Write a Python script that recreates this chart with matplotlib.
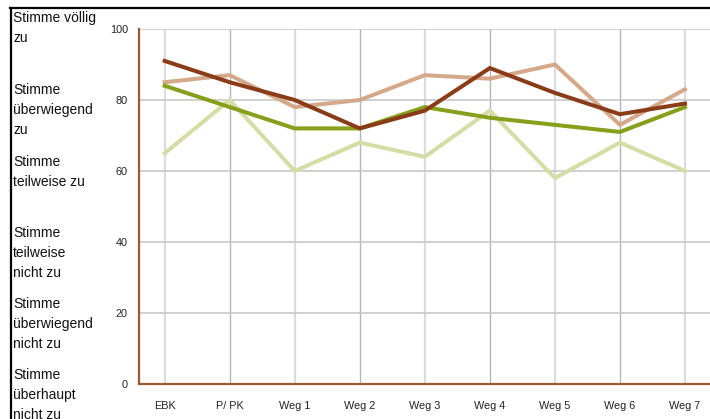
import matplotlib
matplotlib.use("Agg")
import matplotlib.pyplot as plt
from matplotlib.lines import Line2D

plt.rcParams['font.family'] = ['Liberation Sans', 'DejaVu Sans']

categories = ["EBK", "P/ PK", "Weg 1", "Weg 2", "Weg 3", "Weg 4", "Weg 5", "Weg 6", "Weg 7"]
light_green = [65, 80, 60, 68, 64, 77, 58, 68, 60]
tan = [85, 87, 78, 80, 87, 86, 90, 73, 83]
olive = [84, 78, 72, 72, 78, 75, 73, 71, 78]
dark_brown = [91, 85, 80, 72, 77, 89, 82, 76, 79]
y_ticks = [0, 20, 40, 60, 80, 100]
scale_labels = [
    ["Stimme völlig", "zu"],
    ["Stimme", "überwiegend", "zu"],
    ["Stimme", "teilweise zu"],
    ["Stimme", "teilweise", "nicht zu"],
    ["Stimme", "überwiegend", "nicht zu"],
    ["Stimme", "überhaupt", "nicht zu"],
]
label_tops = [13, 85, 157, 228, 299, 370]

W, H = 710, 419
fig = plt.figure(figsize=(W / 100, H / 100), dpi=100)
left, right, top, bottom = 139, 710, 29, 384
ax = fig.add_axes([left / W, 1 - bottom / H, (right - left) / W, (bottom - top) / H])

x = list(range(len(categories)))
# x-limits so that category spacing is ~65 px, first category at 164.7 px
ax.set_xlim(-0.395, 8.385)
ax.set_ylim(0, 100)

for i in x:
    if i % 2 == 0:
        ax.axvline(i, color="#dcdcdc", lw=1.6, zorder=0)
    else:
        ax.axvline(i, color="#b5b5b5", lw=1.0, zorder=0)
for t in y_ticks[1:]:
    ax.axhline(t, color="#c8c8c8", lw=1.2, zorder=0)

lw = 2.9
ax.plot(x, light_green, color="#d7dca6", lw=lw, zorder=2, solid_joinstyle="miter")
ax.plot(x, tan, color="#d4a888", lw=lw, zorder=3, solid_joinstyle="miter")
ax.plot(x, olive, color="#85a11b", lw=lw, zorder=4, solid_joinstyle="miter")
ax.plot(x, dark_brown, color="#8a3b17", lw=lw, zorder=5, solid_joinstyle="miter")

for s in ["top", "right"]:
    ax.spines[s].set_visible(False)
for s in ["left", "bottom"]:
    ax.spines[s].set_color("#9b5a36")
    ax.spines[s].set_linewidth(1.6)

ax.set_xticks(x)
ax.set_xticklabels(categories, fontsize=7.8)
ax.set_yticks(y_ticks)
ax.set_yticklabels([str(t) for t in y_ticks], fontsize=7.8)
ax.tick_params(axis="both", length=0, colors="#222222")
ax.tick_params(axis="x", pad=12)
ax.tick_params(axis="y", pad=8)

for lines, t in zip(scale_labels, label_tops):
    for k, line in enumerate(lines):
        fig.text(13 / W, 1 - (t - 2 + 20 * k) / H, line, fontsize=10, va="top", ha="left", color="#111111")

fig.add_artist(Line2D([10 / W, 1.0], [1 - 8 / H, 1 - 8 / H], color="black", lw=1.6, transform=fig.transFigure))
fig.add_artist(Line2D([11 / W, 11 / W], [0, 1 - 8 / H], color="black", lw=1.6, transform=fig.transFigure))

fig.savefig("out.png", dpi=100)
